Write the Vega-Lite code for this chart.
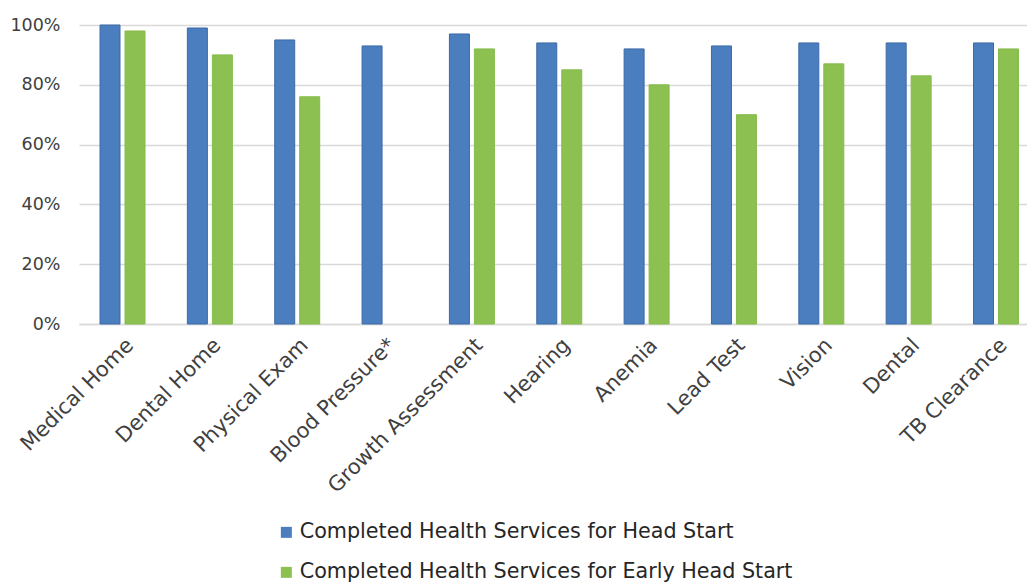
{
  "$schema": "https://vega.github.io/schema/vega-lite/v6.json",
  "autosize": {"type": "none"},
  "padding": {"left": 79, "top": 25, "right": 0, "bottom": 259},
  "width": 948,
  "height": 299,
  "background": "white",
  "data": {"values": [
    {"service": "Medical Home", "program": "Completed Health Services for Head Start", "pct": 1.00},
    {"service": "Medical Home", "program": "Completed Health Services for Early Head Start", "pct": 0.98},
    {"service": "Dental Home", "program": "Completed Health Services for Head Start", "pct": 0.99},
    {"service": "Dental Home", "program": "Completed Health Services for Early Head Start", "pct": 0.90},
    {"service": "Physical Exam", "program": "Completed Health Services for Head Start", "pct": 0.95},
    {"service": "Physical Exam", "program": "Completed Health Services for Early Head Start", "pct": 0.76},
    {"service": "Blood Pressure*", "program": "Completed Health Services for Head Start", "pct": 0.93},
    {"service": "Growth Assessment", "program": "Completed Health Services for Head Start", "pct": 0.97},
    {"service": "Growth Assessment", "program": "Completed Health Services for Early Head Start", "pct": 0.92},
    {"service": "Hearing", "program": "Completed Health Services for Head Start", "pct": 0.94},
    {"service": "Hearing", "program": "Completed Health Services for Early Head Start", "pct": 0.85},
    {"service": "Anemia", "program": "Completed Health Services for Head Start", "pct": 0.92},
    {"service": "Anemia", "program": "Completed Health Services for Early Head Start", "pct": 0.80},
    {"service": "Lead Test", "program": "Completed Health Services for Head Start", "pct": 0.93},
    {"service": "Lead Test", "program": "Completed Health Services for Early Head Start", "pct": 0.70},
    {"service": "Vision", "program": "Completed Health Services for Head Start", "pct": 0.94},
    {"service": "Vision", "program": "Completed Health Services for Early Head Start", "pct": 0.87},
    {"service": "Dental", "program": "Completed Health Services for Head Start", "pct": 0.94},
    {"service": "Dental", "program": "Completed Health Services for Early Head Start", "pct": 0.83},
    {"service": "TB Clearance", "program": "Completed Health Services for Head Start", "pct": 0.94},
    {"service": "TB Clearance", "program": "Completed Health Services for Early Head Start", "pct": 0.92}
  ]},
  "mark": {"type": "bar", "strokeWidth": 1},
  "encoding": {
    "x": {
      "field": "service", "type": "nominal", "sort": null, "title": null,
      "scale": {"paddingInner": 0.485, "paddingOuter": 0.169, "align": 0.712},
      "axis": {
        "labelAngle": -45, "labelAlign": "right", "labelBaseline": "top",
        "labelFont": "DejaVu Sans", "labelFontSize": 21, "labelColor": "#404040",
        "labelLimit": 400,
        "ticks": false, "domainColor": "#d9d9d9", "domainWidth": 1.5, "labelPadding": 10
      }
    },
    "xOffset": {
      "field": "program", "type": "nominal",
      "sort": ["Completed Health Services for Head Start", "Completed Health Services for Early Head Start"],
      "scale": {"paddingInner": 0.2, "paddingOuter": 0}
    },
    "y": {
      "field": "pct", "type": "quantitative", "title": null,
      "scale": {"domain": [0, 1], "nice": false},
      "axis": {
        "format": ".0%", "values": [0, 0.2, 0.4, 0.6, 0.8, 1],
        "labelFont": "DejaVu Sans", "labelFontSize": 17.5, "labelColor": "#404040",
        "domain": false, "ticks": false, "labelPadding": 19,
        "gridColor": "#d9d9d9", "gridWidth": 1.5
      }
    },
    "color": {
      "field": "program", "type": "nominal",
      "sort": ["Completed Health Services for Head Start", "Completed Health Services for Early Head Start"],
      "scale": {"range": ["#4a7ebf", "#8cc152"]},
      "legend": {
        "title": null, "orient": "none", "legendX": 197, "legendY": 497,
        "direction": "vertical", "symbolType": "square", "symbolSize": 121,
        "symbolStrokeWidth": 0, "labelFont": "DejaVu Sans", "labelFontSize": 20.7,
        "labelColor": "#262626", "rowPadding": 18, "labelLimit": 700, "labelOffset": 3
      }
    },
    "stroke": {
      "field": "program", "type": "nominal", "legend": null,
      "sort": ["Completed Health Services for Head Start", "Completed Health Services for Early Head Start"],
      "scale": {"range": ["#3d6aa5", "#86bb4c"]}
    }
  },
  "config": {"view": {"stroke": null}}
}
